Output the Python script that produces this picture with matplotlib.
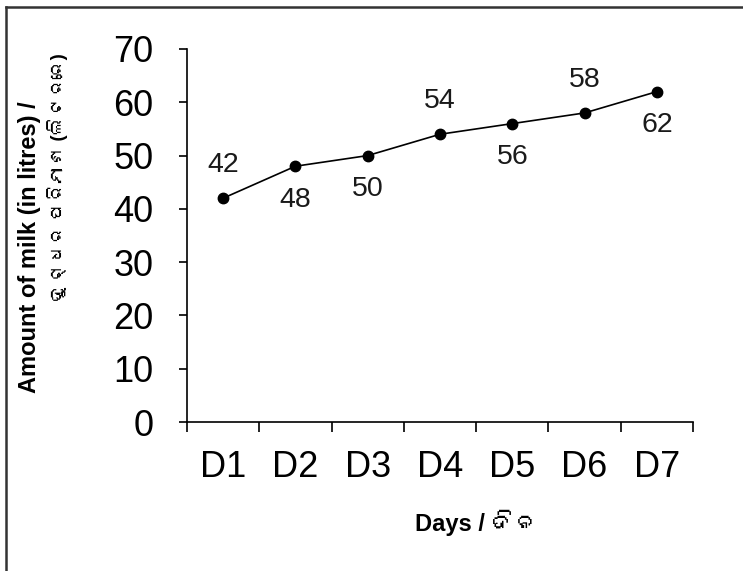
import matplotlib
matplotlib.use("Agg")
import matplotlib.pyplot as plt
from matplotlib import font_manager
from matplotlib.ft2font import FT2Font
from matplotlib.lines import Line2D

days = ["D1", "D2", "D3", "D4", "D5", "D6", "D7"]
milk = [42, 48, 50, 54, 56, 58, 62]
label_side = ["above", "below", "below", "above", "below", "above", "below"]


def odia_family():
    # look for any installed font that has Odia letters
    for f in font_manager.fontManager.ttflist:
        try:
            cmap = FT2Font(f.fname).get_charmap()
        except Exception:
            continue
        if 0x0B26 in cmap and 0x0B23 in cmap:
            return f.name
    return None


families = ["Liberation Sans", "Noto Sans", "DejaVu Sans"]
odia = odia_family()
if odia:
    families.append(odia)
plt.rcParams["font.family"] = families

W, H = 743, 571
fig = plt.figure(figsize=(W / 100, H / 100), dpi=100)
ax = fig.add_axes([187 / W, 1 - 422 / H, (693 - 187) / W, (422 - 49) / H])

x = range(len(days))
ax.plot(x, milk, color="black", lw=1.2, marker="o", markersize=7.5, zorder=3)

for i, (v, side) in enumerate(zip(milk, label_side)):
    dy = 24 if side == "above" else -24
    ax.annotate(str(v), (i, v), xytext=(0, dy), textcoords="offset points",
                ha="center", va="center", fontsize=20.5, color="#1a1a1a")

ax.set_xlim(-0.5, len(days) - 0.5)
ax.set_ylim(0, 70)
ax.set_yticks(range(0, 71, 10))

# category axis: ticks between categories, labels centred
ax.set_xticks([i - 0.5 for i in range(len(days) + 1)])
ax.set_xticklabels([])
ax.set_xticks(list(x), minor=True)
ax.set_xticklabels(days, minor=True)
ax.tick_params(axis="x", which="major", direction="out", length=7, width=1.2)
ax.tick_params(axis="x", which="minor", length=0, pad=20, labelsize=26)
ax.tick_params(axis="y", direction="out", length=6, width=1.2, pad=18, labelsize=26)

for s in ["top", "right"]:
    ax.spines[s].set_visible(False)
for s in ["left", "bottom"]:
    ax.spines[s].set_linewidth(1.2)

fig.text(30 / W, 1 - 247 / H, "Amount of milk (in litres) /", rotation=90,
         ha="center", va="center", fontsize=17, fontweight="bold")
fig.text(58 / W, 1 - 53 / H, "ଦୁଗ୍ଧର ପରିମାଣ (ଲିଟରରେ)", rotation=90,
         ha="center", va="top", fontsize=13.5, fontweight="bold")
fig.text(477 / W, 1 - 523 / H, "Days / ଦିନ", ha="center", va="center",
         fontsize=17, fontweight="bold")

# outer frame (top and left edges visible)
fig.add_artist(Line2D([6.5 / W, 1], [1 - 6.5 / H] * 2, transform=fig.transFigure,
                      color="#333333", lw=1.8))
fig.add_artist(Line2D([6.5 / W] * 2, [0, 1 - 6.5 / H], transform=fig.transFigure,
                      color="#333333", lw=1.8))

fig.savefig("out.png", dpi=100)
plt.close(fig)
